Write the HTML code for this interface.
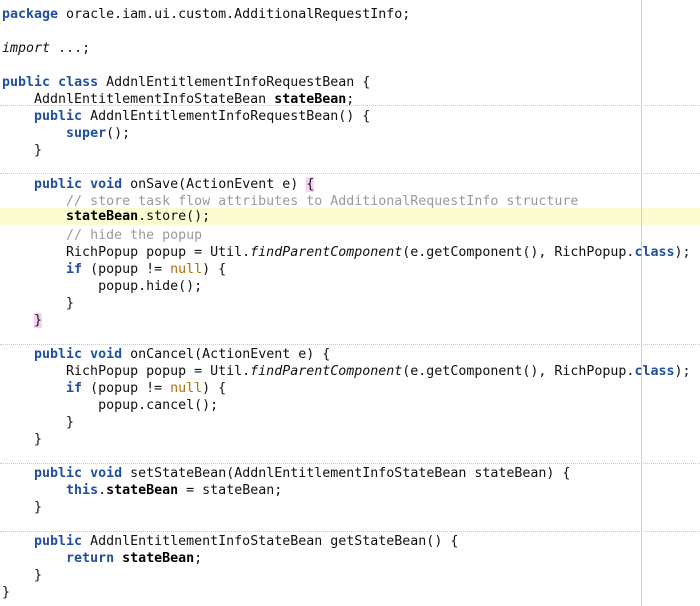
<!DOCTYPE html>
<html><head><meta charset="utf-8"><style>
html,body{margin:0;padding:0;background:#fff;}
#c{position:relative;width:700px;height:606px;overflow:hidden;background:#fff;}
.l{position:absolute;left:2px;margin-top:2px;height:17px;line-height:17px;font-family:"DejaVu Sans Mono","Liberation Mono",monospace;font-size:13.3px;color:#111;white-space:pre;}
.k{color:#1f4f9f;font-weight:600;}
.b{font-weight:600;color:#000;}
.c{color:#9a9a9a;}
.n{color:#b07000;}
.i{font-style:italic;}
.p{background:#f6d3f6;}
.sep{position:absolute;left:0;width:700px;border-top:1px dotted #c8c8c8;height:0;}
.hl{position:absolute;left:0;width:700px;top:208px;height:17px;background:#fcfcd2;}
.v{position:absolute;left:641px;top:0;width:1px;height:606px;background:#d0d0d0;}
</style></head><body><div id="c">
<div class="hl"></div>
<div class="sep" style="top:105px"></div>
<div class="sep" style="top:173px"></div>
<div class="sep" style="top:344px"></div>
<div class="sep" style="top:463px"></div>
<div class="sep" style="top:531px"></div>
<div class="v"></div>
<div class="l" style="top:4px"><span class="k">package</span> oracle.iam.ui.custom.AdditionalRequestInfo;</div>
<div class="l" style="top:38px"><span class="i">import</span> ...;</div>
<div class="l" style="top:72px"><span class="k">public</span> <span class="k">class</span> AddnlEntitlementInfoRequestBean {</div>
<div class="l" style="top:89px">    AddnlEntitlementInfoStateBean <span class="b">stateBean</span>;</div>
<div class="l" style="top:106px">    <span class="k">public</span> AddnlEntitlementInfoRequestBean() {</div>
<div class="l" style="top:123px">        <span class="k">super</span>();</div>
<div class="l" style="top:140px">    }</div>
<div class="l" style="top:174px">    <span class="k">public</span> <span class="k">void</span> onSave(ActionEvent e) <span class="p">{</span></div>
<div class="l" style="top:191px">        <span class="c">// store task flow attributes to AdditionalRequestInfo structure</span></div>
<div class="l" style="top:206px">        <span class="b">stateBean</span>.store();</div>
<div class="l" style="top:225px">        <span class="c">// hide the popup</span></div>
<div class="l" style="top:242px">        RichPopup popup = Util.<span class="i">findParentComponent</span>(e.getComponent(), RichPopup.<span class="k">class</span>);</div>
<div class="l" style="top:259px">        <span class="k">if</span> (popup != <span class="n">null</span>) {</div>
<div class="l" style="top:276px">            popup.hide();</div>
<div class="l" style="top:293px">        }</div>
<div class="l" style="top:310px">    <span class="p">}</span></div>
<div class="l" style="top:344px">    <span class="k">public</span> <span class="k">void</span> onCancel(ActionEvent e) {</div>
<div class="l" style="top:361px">        RichPopup popup = Util.<span class="i">findParentComponent</span>(e.getComponent(), RichPopup.<span class="k">class</span>);</div>
<div class="l" style="top:378px">        <span class="k">if</span> (popup != <span class="n">null</span>) {</div>
<div class="l" style="top:395px">            popup.cancel();</div>
<div class="l" style="top:412px">        }</div>
<div class="l" style="top:429px">    }</div>
<div class="l" style="top:463px">    <span class="k">public</span> <span class="k">void</span> setStateBean(AddnlEntitlementInfoStateBean stateBean) {</div>
<div class="l" style="top:480px">        <span class="k">this</span>.<span class="b">stateBean</span> = stateBean;</div>
<div class="l" style="top:497px">    }</div>
<div class="l" style="top:531px">    <span class="k">public</span> AddnlEntitlementInfoStateBean getStateBean() {</div>
<div class="l" style="top:548px">        <span class="k">return</span> <span class="b">stateBean</span>;</div>
<div class="l" style="top:565px">    }</div>
<div class="l" style="top:582px">}</div>
</div></body></html>
